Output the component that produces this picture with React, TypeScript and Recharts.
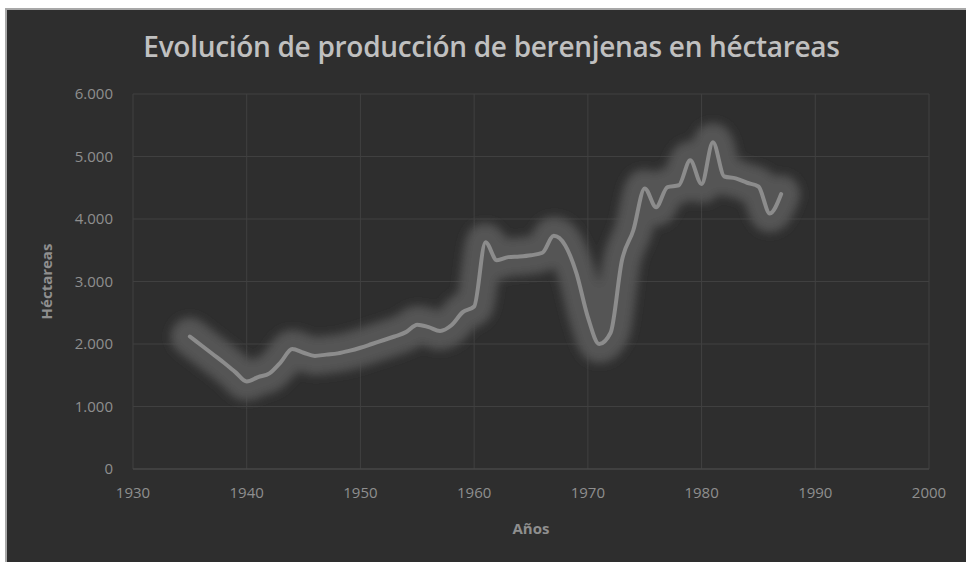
import { LineChart, Line, XAxis, YAxis, CartesianGrid, Label } from 'recharts';

const years = [
  1935, 1936, 1937, 1938, 1939, 1940, 1941, 1942, 1943, 1944,
  1945, 1946, 1947, 1948, 1949, 1950, 1951, 1952, 1953, 1954,
  1955, 1956, 1957, 1958, 1959, 1960, 1961, 1962, 1963, 1964,
  1965, 1966, 1967, 1968, 1969, 1970, 1971, 1972, 1973, 1974,
  1975, 1976, 1977, 1978, 1979, 1980, 1981, 1982, 1983, 1984,
  1985, 1986, 1987,
];

const hectareas = [
  2120, 1980, 1840, 1700, 1550, 1400, 1470, 1530, 1710, 1920,
  1860, 1810, 1830, 1850, 1890, 1940, 2000, 2060, 2120, 2190,
  2310, 2270, 2210, 2300, 2510, 2600, 3630, 3340, 3390, 3400,
  3420, 3460, 3730, 3580, 3130, 2430, 2000, 2180, 3340, 3820,
  4490, 4190, 4510, 4540, 4940, 4560, 5230, 4680, 4650, 4580,
  4520, 4090, 4400,
];

const xTicks = [1930, 1940, 1950, 1960, 1970, 1980, 1990, 2000];
const yTicks = [0, 1000, 2000, 3000, 4000, 5000, 6000];

const data = years.map((year, i) => ({ year, value: hectareas[i] }));

const fmt = (v: number) => v.toLocaleString('de-DE');

const font = '"Open Sans", sans-serif';
const tickStyle = { fill: '#8f8f8f', fontSize: 15, fontFamily: font };
const axisTitle = { fill: '#8f8f8f', fontSize: 15, fontWeight: 700, fontFamily: font };

export default function App() {
  return (
    <div style={{ position: 'fixed', left: 0, top: 0, width: 966, height: 562, background: '#fff' }}>
      <style>{`.glow-line { filter: url(#glowBlur); }`}</style>
      <svg width={0} height={0} style={{ position: 'absolute' }}>
        <defs>
          <filter id="glowBlur" x="-20%" y="-50%" width="140%" height="200%">
            <feGaussianBlur stdDeviation="5" />
          </filter>
        </defs>
      </svg>
      <div
        style={{
          position: 'absolute',
          left: 5,
          top: 8,
          width: 961,
          height: 554,
          background: '#2e2e2e',
          borderTop: '2px solid #a8a8a8',
          borderLeft: '2px solid #a8a8a8',
          boxSizing: 'border-box',
        }}
      >
        <div
          style={{
            position: 'absolute',
            left: 0,
            width: 959,
            top: 17,
            textAlign: 'center',
            paddingLeft: 10,
            boxSizing: 'border-box',
            color: '#c0c0c0',
            fontFamily: font,
            fontSize: 28,
            fontWeight: 600,
            letterSpacing: -0.3,
          }}
        >
          Evolución de producción de berenjenas en héctareas
        </div>
        <LineChart
          width={959}
          height={552}
          data={data}
          margin={{ top: 84, right: 37, bottom: 63, left: 0 }}
        >
          <CartesianGrid stroke="#404040" strokeWidth={1} />
          <XAxis
            dataKey="year"
            type="number"
            domain={[1930, 2000]}
            ticks={xTicks}
            height={30}
            axisLine={{ stroke: '#4a4a4a' }}
            tickLine={false}
            tickSize={0}
            tickMargin={18}
            tick={tickStyle}
          >
            <Label value="Años" position="bottom" offset={24} style={axisTitle} />
          </XAxis>
          <YAxis
            type="number"
            domain={[0, 6000]}
            ticks={yTicks}
            width={126}
            axisLine={false}
            tickLine={false}
            tickSize={0}
            tickMargin={20}
            tickFormatter={fmt}
            tick={tickStyle}
          >
            <Label
              value="Héctareas"
              angle={-90}
              position="insideLeft"
              offset={40}
              style={{ ...axisTitle, textAnchor: 'middle' }}
            />
          </YAxis>
          <Line
            className="glow-line"
            dataKey="value"
            type="monotone"
            stroke="#555555"
            strokeWidth={38}
            strokeLinecap="round"
            strokeLinejoin="round"
            dot={false}
            activeDot={false}
            isAnimationActive={false}
          />
          <Line
            dataKey="value"
            type="monotone"
            stroke="#8c8c8c"
            strokeWidth={4}
            strokeLinecap="round"
            strokeLinejoin="round"
            dot={false}
            activeDot={false}
            isAnimationActive={false}
          />
        </LineChart>
      </div>
    </div>
  );
}
